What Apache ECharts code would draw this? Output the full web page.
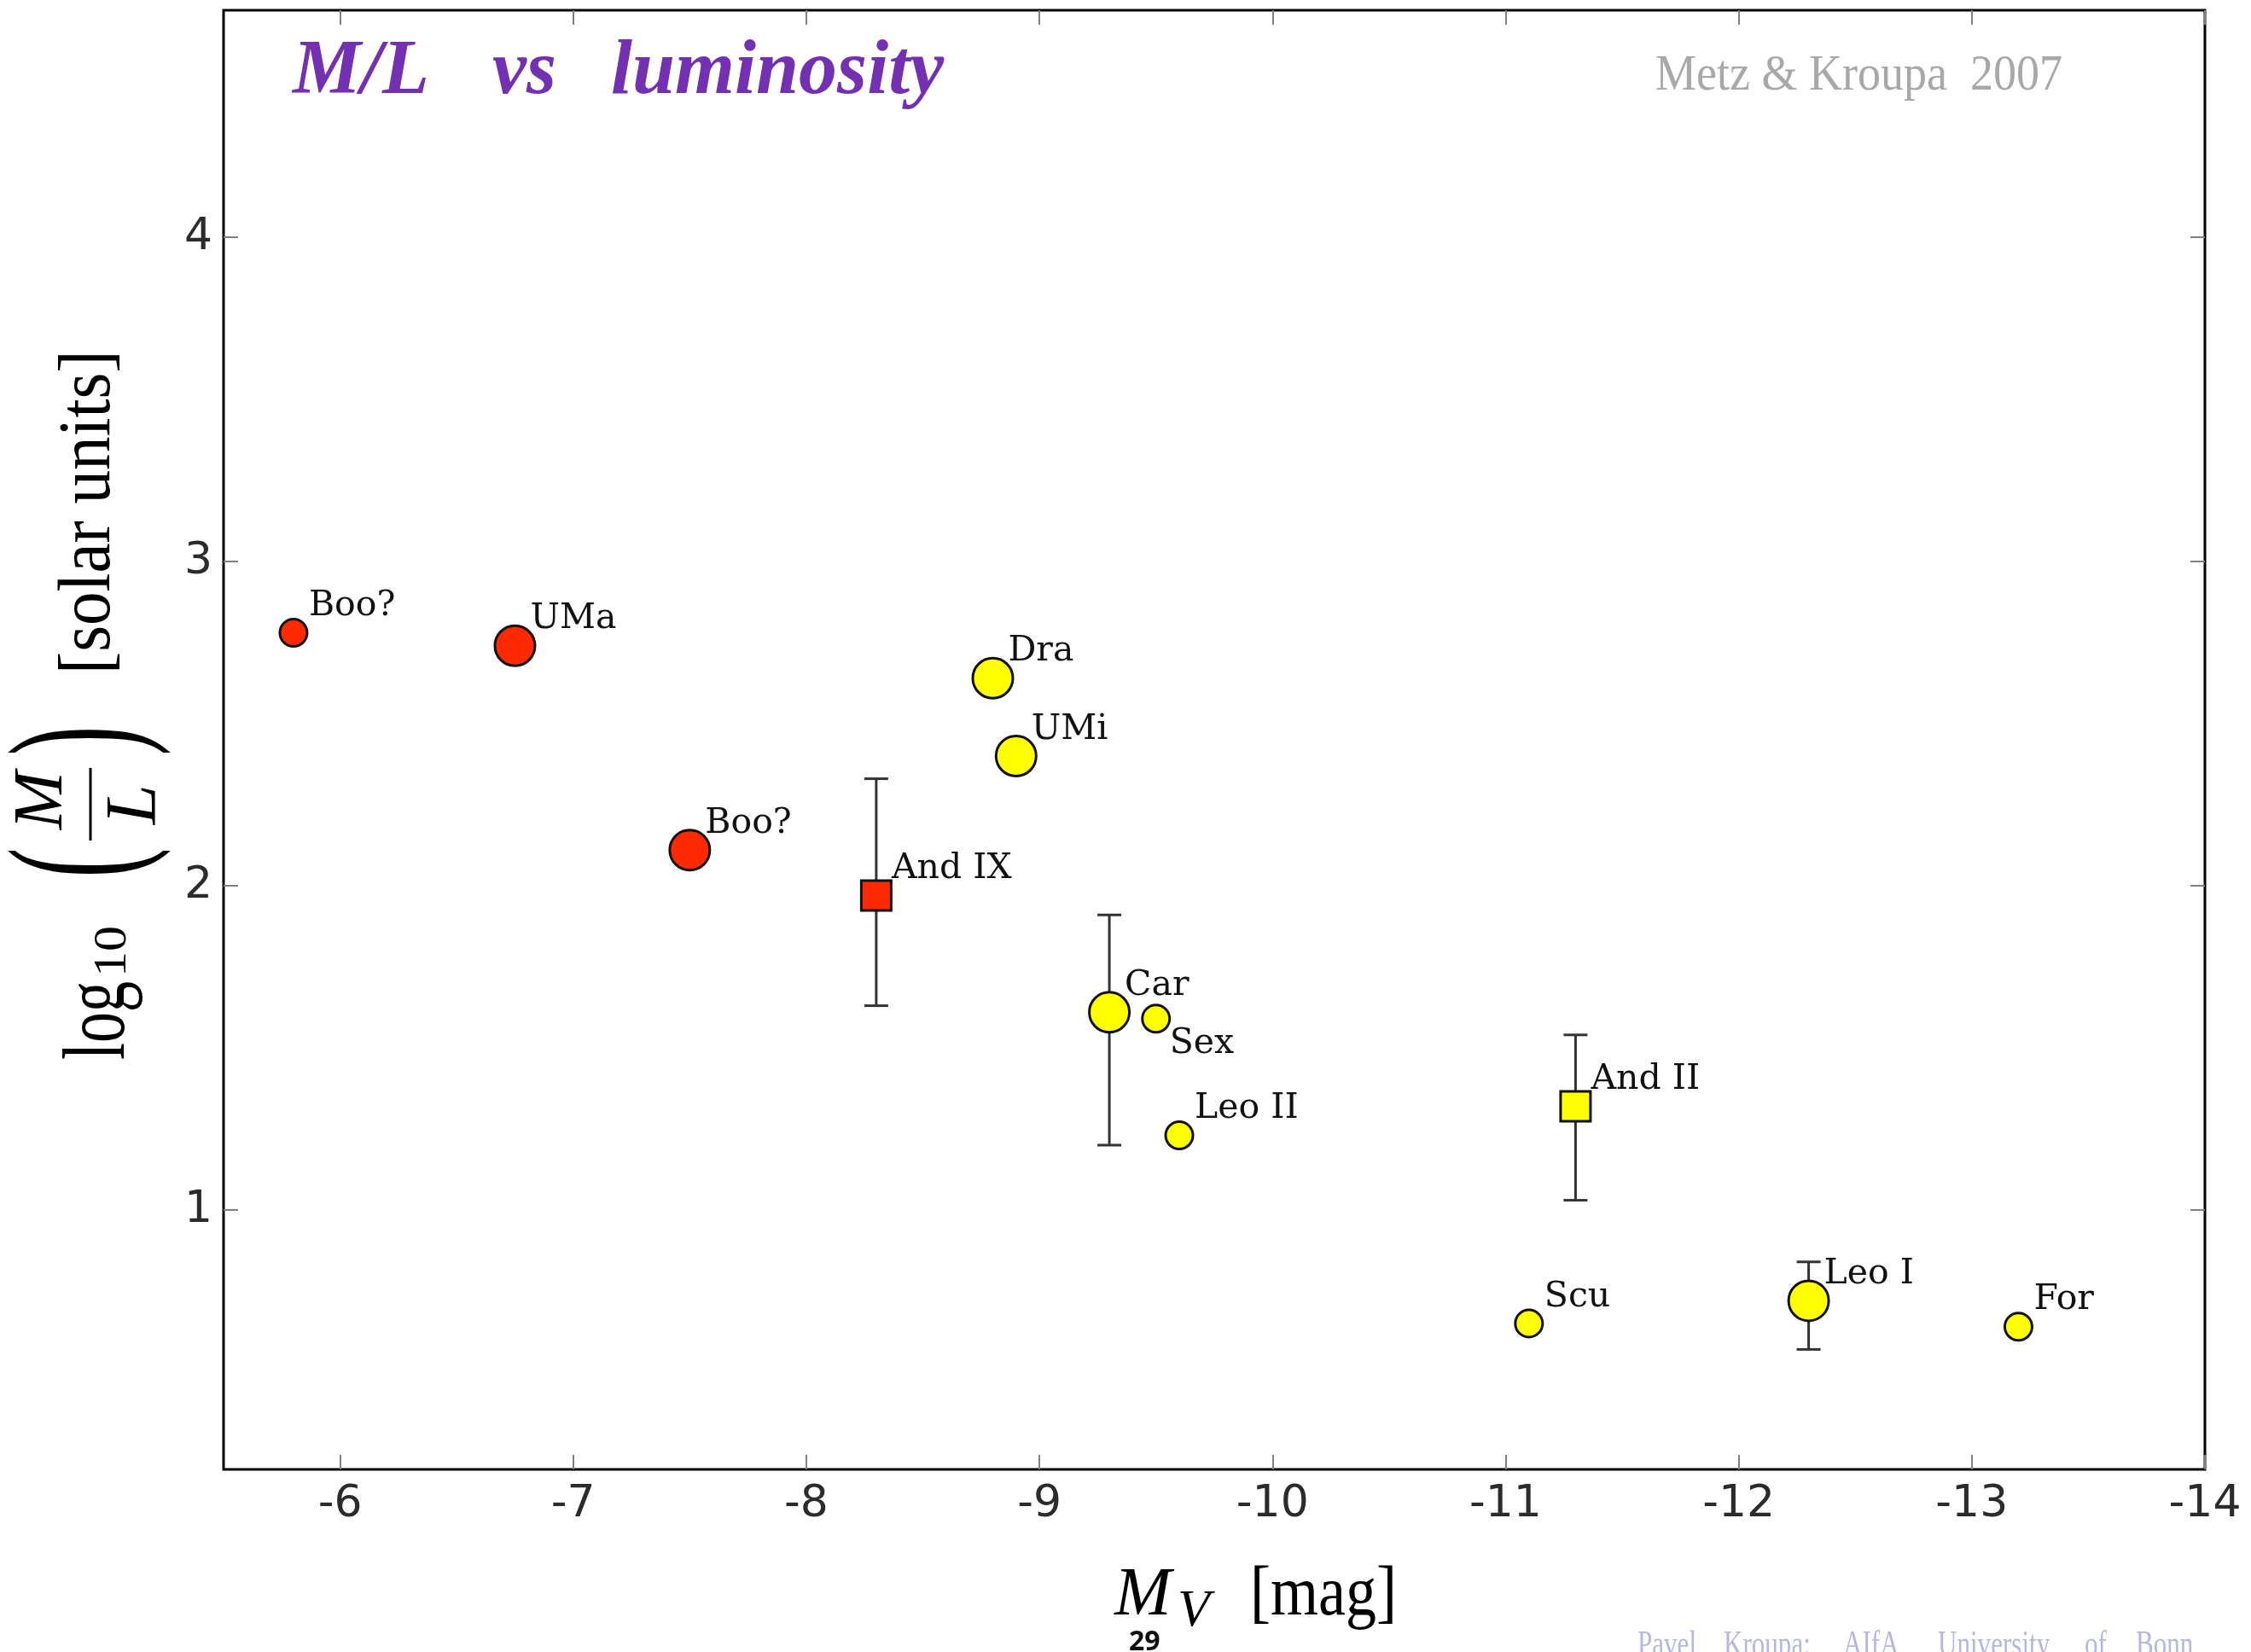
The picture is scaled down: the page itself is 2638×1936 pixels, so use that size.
<!DOCTYPE html>
<html>
<head>
<meta charset="utf-8">
<title>M/L vs luminosity</title>
<script src="https://cdn.jsdelivr.net/npm/echarts@6/dist/echarts.min.js"></script>
<style>
  html, body { margin: 0; padding: 0; background: #ffffff; }
  #chart { width: 2638px; height: 1936px; }
</style>
</head>
<body>
<div id="chart"></div>
<script>
// Dwarf spheroidal satellites: absolute V magnitude vs log10 mass-to-light ratio
const galaxies  = ['Boo?', 'UMa', 'Boo?', 'And IX', 'Dra', 'UMi', 'Car', 'Sex', 'Leo II', 'And II', 'Scu', 'Leo I', 'For'];
const magV      = [-5.8, -6.75, -7.5, -8.3, -8.8, -8.9, -9.3, -9.5, -9.6, -11.3, -11.1, -12.3, -13.2];
const logML     = [2.78, 2.74, 2.11, 1.97, 2.64, 2.40, 1.61, 1.59, 1.23, 1.32, 0.65, 0.72, 0.64];
const errLow    = [null, null, null, 1.63, null, null, 1.20, null, null, 1.03, null, 0.57, null];
const errHigh   = [null, null, null, 2.33, null, null, 1.91, null, null, 1.54, null, 0.84, null];
// 'new' = recently found faint satellites, 'classical' = classical dSphs
const sample    = ['new', 'new', 'new', 'new', 'classical', 'classical', 'classical', 'classical', 'classical', 'classical', 'classical', 'classical', 'classical'];
const markType  = ['small', 'large', 'large', 'square', 'large', 'large', 'large', 'small', 'small', 'square', 'small', 'large', 'small'];

const xTicks = [-6, -7, -8, -9, -10, -11, -12, -13, -14];
const yTicks = [1, 2, 3, 4];

// marker appearance per class
const SAMPLE_COLOR = { 'new': '#ff2a00', 'classical': '#ffff00' };
const MARK_STYLE = {
  small:  { symbol: 'circle', size: 32 },
  large:  { symbol: 'circle', size: 47 },
  square: { symbol: 'rect',   size: 35 }
};

const pointData = galaxies.map((name, i) => {
  const m = MARK_STYLE[markType[i]];
  const item = {
    name: name,
    value: [magV[i], logML[i]],
    symbol: m.symbol,
    symbolSize: m.size,
    itemStyle: { color: SAMPLE_COLOR[sample[i]] }
  };
  if (name === 'Sex') {
    item.label = { verticalAlign: 'top', offset: [16, 9.5] };
  }
  return item;
});

const errData = [];
galaxies.forEach((g, i) => {
  if (errLow[i] != null) errData.push([magV[i], errLow[i], errHigh[i]]);
});

// ---- text helpers ----
const K = 0.26; // middle-to-baseline distance, in em
function txt(text, x, base, o) {
  const F = o.size, sy = o.sy || 1;
  const font = (o.fstyle || 'normal') + ' ' + (o.weight || 'normal') + ' ' + F + 'px ' + o.family;
  return {
    type: 'text', x: x, y: base - K * F * sy, scaleX: o.sx || 1, scaleY: sy, silent: true, z: 100,
    style: { text: text, font: font, fill: o.color || '#000',
             textAlign: o.align || 'left', align: o.align || 'left',
             textVerticalAlign: 'middle', verticalAlign: 'middle' }
  };
}
// text reading bottom-to-top, baseline at screen x = baseX, starting at screen y = startY
function vtxt(text, baseX, startY, o) {
  const F = o.size, sy = o.sy || 1;
  const font = (o.fstyle || 'normal') + ' ' + (o.weight || 'normal') + ' ' + F + 'px ' + o.family;
  return {
    type: 'text', x: baseX - K * F * sy, y: startY, rotation: Math.PI / 2,
    scaleX: o.sx || 1, scaleY: sy, silent: true, z: 100,
    style: { text: text, font: font, fill: o.color || '#000',
             textAlign: o.align || 'left', align: o.align || 'left',
             textVerticalAlign: 'middle', verticalAlign: 'middle' }
  };
}

const SERIF = '"Liberation Serif"';
const PURPLE = '#7330b0';

const graphics = [
  // title
  txt('M/L', 343, 109, { size: 90, family: SERIF, fstyle: 'italic', weight: 'bold', color: PURPLE }),
  txt('vs', 577, 109, { size: 90, family: SERIF, fstyle: 'italic', weight: 'bold', color: PURPLE }),
  txt('luminosity', 716, 109, { size: 90, family: SERIF, fstyle: 'italic', weight: 'bold', color: PURPLE }),
  // reference
  txt('Metz & Kroupa  2007', 1940, 105, { size: 60, sx: 0.9, family: SERIF, color: '#a8a8a8' }),
  // x axis title
  txt('M', 1306, 1892, { size: 80, family: SERIF, fstyle: 'italic' }),
  txt('V', 1380, 1905, { size: 62, family: SERIF, fstyle: 'italic' }),
  txt('[mag]', 1465, 1892, { size: 72, sy: 1.15, family: SERIF }),
  txt('29', 1323, 1933, { size: 32, family: '"Open Sans"', weight: 'bold', color: '#111' }),
  // y axis title
  vtxt('[solar units]', 128, 790, { size: 79, sy: 1.1, family: SERIF }),
  vtxt('log', 145, 1242, { size: 72, sy: 1.45, family: SERIF }),
  vtxt('10', 147, 1145, { size: 60, sy: 0.92, family: SERIF }),
  vtxt('(', 154, 1011, { size: 210, sx: 0.5, family: SERIF, align: 'center' }),
  vtxt(')', 154, 868, { size: 210, sx: 0.5, family: SERIF, align: 'center' }),
  vtxt('M', 72, 938, { size: 82, family: SERIF, fstyle: 'italic', align: 'center' }),
  vtxt('L', 182, 943, { size: 84, family: SERIF, fstyle: 'italic', align: 'center' }),
  { type: 'line', silent: true, z: 100, shape: { x1: 106, y1: 900, x2: 106, y2: 985 },
    style: { stroke: '#000', lineWidth: 3 } }
];
// footer credit
const footerWords = ['Pavel', 'Kroupa:', 'AIfA,', 'University', 'of', 'Bonn'];
const footerX = [1919, 2020, 2160, 2271, 2443, 2503];
footerWords.forEach((w, i) => {
  graphics.push(txt(w, footerX[i], 1940, { size: 42, sx: 0.74, family: SERIF, color: '#b6b6de' }));
});

const tickStyle = { inside: true, length: 17, lineStyle: { color: '#808080', width: 2 } };
const labelFont = { fontFamily: '"DejaVu Sans"', fontSize: 52, color: '#2b2b2b' };

const option = {
  animation: false,
  backgroundColor: '#ffffff',
  grid: { left: 262, right: 54, top: 12, bottom: 214, show: true, borderColor: '#000', borderWidth: 3, backgroundColor: 'transparent' },
  xAxis: [
    { type: 'value', min: -14, max: -5.5, inverse: true, position: 'bottom',
      axisLine: { show: false }, splitLine: { show: false },
      axisTick: Object.assign({ customValues: xTicks }, tickStyle),
      axisLabel: Object.assign({ customValues: xTicks, margin: 15 }, labelFont) },
    { type: 'value', min: -14, max: -5.5, inverse: true, position: 'top',
      axisLine: { show: false }, splitLine: { show: false },
      axisTick: Object.assign({ customValues: xTicks }, tickStyle),
      axisLabel: { show: false } }
  ],
  yAxis: [
    { type: 'value', min: 0.2, max: 4.7, position: 'left',
      axisLine: { show: false }, splitLine: { show: false },
      axisTick: Object.assign({ customValues: yTicks }, tickStyle),
      axisLabel: Object.assign({ customValues: yTicks, margin: 13 }, labelFont) },
    { type: 'value', min: 0.2, max: 4.7, position: 'right',
      axisLine: { show: false }, splitLine: { show: false },
      axisTick: Object.assign({ customValues: yTicks }, tickStyle),
      axisLabel: { show: false } }
  ],
  series: [
    {
      type: 'custom', xAxisIndex: 0, yAxisIndex: 0, z: 1, silent: true,
      encode: { x: 0, y: [1, 2] },
      data: errData,
      renderItem: function (params, api) {
        const x = api.value(0), lo = api.value(1), hi = api.value(2);
        const pLo = api.coord([x, lo]);
        const pHi = api.coord([x, hi]);
        const cap = 14;
        const st = { stroke: '#333333', lineWidth: 3 };
        return {
          type: 'group',
          children: [
            { type: 'line', shape: { x1: pLo[0], y1: pLo[1], x2: pHi[0], y2: pHi[1] }, style: st },
            { type: 'line', shape: { x1: pLo[0] - cap, y1: pLo[1], x2: pLo[0] + cap, y2: pLo[1] }, style: st },
            { type: 'line', shape: { x1: pHi[0] - cap, y1: pHi[1], x2: pHi[0] + cap, y2: pHi[1] }, style: st }
          ]
        };
      }
    },
    {
      type: 'scatter', xAxisIndex: 0, yAxisIndex: 0, z: 5,
      data: pointData,
      itemStyle: { borderColor: '#111111', borderWidth: 3, opacity: 1 },
      label: {
        show: true, position: 'inside', formatter: '{b}',
        align: 'left', verticalAlign: 'bottom', offset: [18, -10.5],
        fontFamily: '"DejaVu Serif"', fontSize: 41, color: '#111111'
      },
      emphasis: { disabled: true }
    }
  ],
  graphic: graphics
};

const chart = echarts.init(document.getElementById('chart'), null, { renderer: 'canvas' });
chart.setOption(option);
</script>
</body>
</html>
